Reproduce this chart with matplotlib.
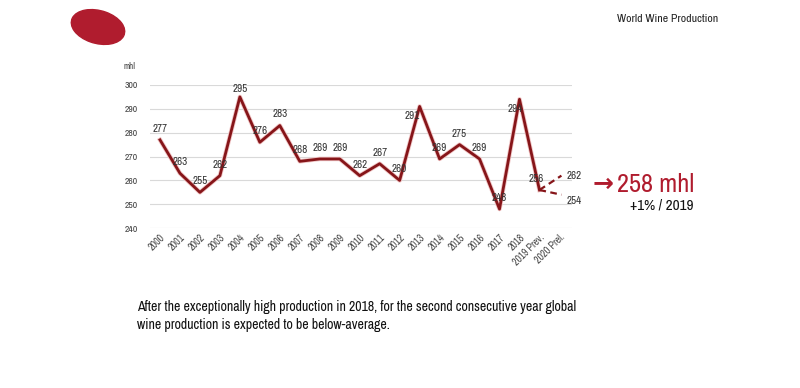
import matplotlib
matplotlib.use("Agg")
import matplotlib.pyplot as plt
from matplotlib.patches import Ellipse

plt.rcParams['font.family'] = ['Archivo Narrow', 'Liberation Sans', 'DejaVu Sans']

years = ["2000", "2001", "2002", "2003", "2004", "2005", "2006", "2007", "2008", "2009",
         "2010", "2011", "2012", "2013", "2014", "2015", "2016", "2017", "2018",
         "2019 Prev.", "2020 Prel."]
production = [277, 263, 255, 262, 295, 276, 283, 268, 269, 269,
              262, 267, 260, 291, 269, 275, 269, 248, 294, 256]
forecast_high = 262
forecast_low = 254
forecast_mid = "258 mhl"
forecast_change = "+1% / 2019"

# label offsets in points (dx, dy), label centred there
offsets = [(0, 8)] * len(production)
offsets[4] = (0, 6)
offsets[13] = (-5, -7)
offsets[18] = (-3, -7)
offsets[19] = (-2, 8)

red = "#861519"

fig = plt.figure(figsize=(8, 3.88), dpi=100)
ax = fig.add_axes([0.1875, 0.412, 0.528, 0.369])

x = list(range(len(production)))
ax.plot(x, production, color="#f0c4c4", lw=3.2, solid_joinstyle="round", zorder=2)
ax.plot(x, production, color=red, lw=2.0, solid_joinstyle="round", zorder=3)

last = len(production) - 1
for end in (forecast_high, forecast_low):
    ax.plot([last, last + 1.1], [production[-1], end], color=red, lw=1.6,
            ls=(0, (3, 2)), zorder=3)
ax.text(last + 1.35, forecast_high, str(forecast_high), fontsize=8, color="#333333",
        va="center", ha="left")
ax.text(last + 1.35, forecast_low - 2.5, str(forecast_low), fontsize=8, color="#333333",
        va="center", ha="left")

for xi, v, (dx, dy) in zip(x, production, offsets):
    ax.annotate(str(v), (xi, v), xytext=(dx, dy), textcoords="offset points",
                ha="center", va="center", fontsize=8, color="#333333", zorder=4)

ax.set_ylim(240, 300)
ax.set_yticks(range(240, 301, 10))
ax.set_xlim(-0.5, 20.65)
ax.set_xticks(range(len(years)))
ax.set_xticklabels(years, rotation=45, ha="right", rotation_mode="anchor",
                   fontsize=7.2, color="#444444")
ax.tick_params(axis="y", labelsize=7, labelcolor="#444444", length=0, pad=9)
ax.tick_params(axis="x", length=0, pad=3)
ax.grid(axis="y", color="#d9d9d9", lw=0.8)
ax.set_axisbelow(True)
for s in ax.spines.values():
    s.set_visible(False)
ax.text(-0.048, 1.1, "mhl", transform=ax.transAxes, fontsize=6.5, color="#444444",
        ha="center", va="bottom")

# decorations
fig.patches.append(Ellipse((98 / 800, 1 - 27 / 388), 50 / 800, 36 / 388, angle=20,
                           transform=fig.transFigure, color="#b01c2e"))
fig.text(617 / 800, 1 - 19 / 388, "World Wine Production", fontsize=8.5,
         color="#222222", va="center", ha="left")
fig.text(593 / 800, 1 - 184 / 388, "\u2192", fontsize=18, fontweight="bold",
         color="#b01c2e", va="center", ha="left", family=["DejaVu Sans"])
fig.text(617 / 800, 1 - 184 / 388, forecast_mid, fontsize=19,
         color="#b01c2e", va="center", ha="left")
fig.text(630 / 800, 1 - 205 / 388, forecast_change, fontsize=11,
         color="#111111", va="center", ha="left")
fig.text(137 / 800, 1 - 316 / 388,
         "After the exceptionally high production in 2018, for the second consecutive year global\n"
         "wine production is expected to be below-average.",
         fontsize=10, color="#111111", va="center", ha="left", linespacing=1.3)

fig.savefig("out.png", dpi=100)
